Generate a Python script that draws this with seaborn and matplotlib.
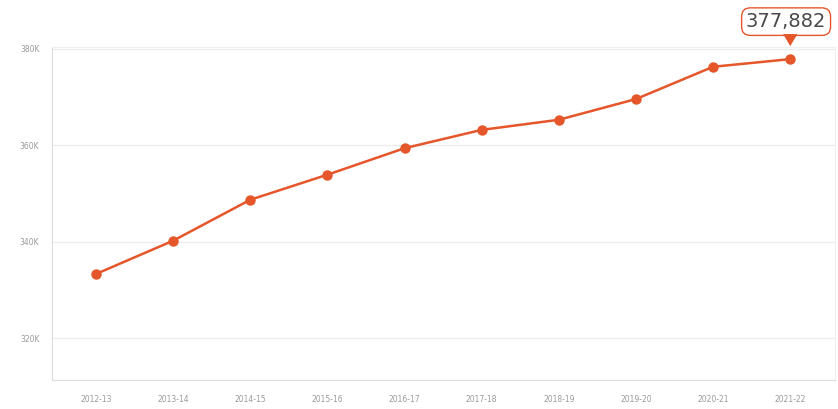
import matplotlib
matplotlib.use("Agg")
import matplotlib.pyplot as plt
import seaborn as sns
import pandas as pd

years = ["2012-13", "2013-14", "2014-15", "2015-16", "2016-17",
         "2017-18", "2018-19", "2019-20", "2020-21", "2021-22"]
values = [333300, 340200, 348700, 353900, 359400,
          363200, 365300, 369600, 376300, 377882]
y_ticks = [320000, 340000, 360000, 380000]
y_tick_labels = ["320K", "340K", "360K", "380K"]

sns.set_theme(style="white")
plt.rcParams["font.family"] = ["DejaVu Sans"]

line_color = "#E5562B"
df = pd.DataFrame({"year": years, "value": values})
df["pos"] = range(len(years))

fig = plt.figure(figsize=(8.38, 4.09), dpi=100)
ax = fig.add_axes([52 / 838, 1 - 380 / 409, (835 - 52) / 838, (380 - 47) / 409])

sns.lineplot(data=df, x="pos", y="value", ax=ax, color=line_color,
             linewidth=1.8, marker="o", markersize=7.5, markeredgewidth=0)

ax.set_xlim(-0.57, 9.58)
ax.set_ylim(311300, 380400)
ax.set_xticks(df["pos"])
ax.set_xticklabels(years)
ax.set_yticks(y_ticks)
ax.set_yticklabels(y_tick_labels)
ax.set_xlabel("")
ax.set_ylabel("")

ax.grid(axis="y", color="#ececec", linewidth=0.9)
ax.grid(axis="x", visible=False)
for side in ["top", "right"]:
    ax.spines[side].set_color("#f0f0f0")
    ax.spines[side].set_linewidth(0.8)
ax.spines["left"].set_color("#dddddd")
ax.spines["bottom"].set_color("#dddddd")
ax.spines["left"].set_linewidth(0.8)
ax.spines["bottom"].set_linewidth(0.8)

ax.tick_params(axis="both", labelsize=5.5, labelcolor="#9a9a9a", length=3,
               color="#dddddd", width=0.8, pad=8)
ax.tick_params(axis="y", pad=6)

# Callout on the latest value
last_x = df["pos"].iloc[-1]
last_y = df["value"].iloc[-1]
ax.annotate(f"{last_y:,}", xy=(last_x, last_y), xytext=(-3, 27),
            textcoords="offset points", ha="center", va="center",
            fontsize=14, color="#4a4a4a",
            bbox=dict(boxstyle="round,pad=0.22,rounding_size=0.45",
                      fc="white", ec=line_color, lw=1.0),
            annotation_clip=False)
ax.annotate("", xy=(last_x, last_y), xytext=(0, 17),
            textcoords="offset points",
            arrowprops=dict(arrowstyle="-|>,head_length=0.72,head_width=0.43",
                            color=line_color, lw=0, shrinkA=0, shrinkB=9.4),
            annotation_clip=False)

fig.savefig("out.png", dpi=100)
